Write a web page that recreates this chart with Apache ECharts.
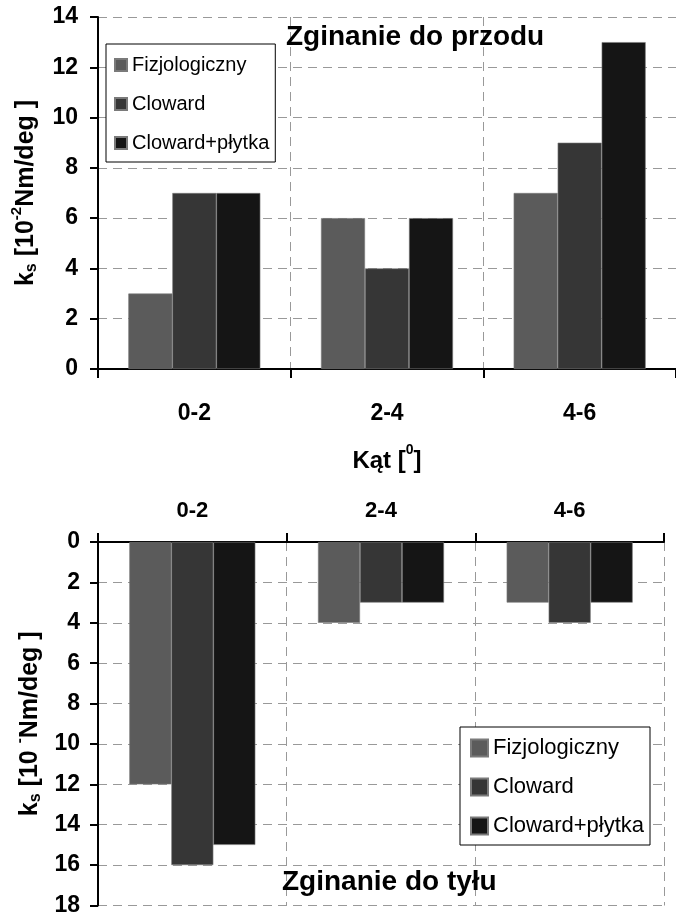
<!DOCTYPE html>
<html>
<head>
<meta charset="utf-8">
<script src="https://cdn.jsdelivr.net/npm/echarts@6/dist/echarts.min.js"></script>
<style>html,body{margin:0;padding:0;background:#fff}#c{width:676px;height:917px}</style>
</head>
<body>
<div id="c"></div>
<script>
var categories = ['0-2', '2-4', '4-6'];
var seriesNames = ['Fizjologiczny', 'Cloward', 'Cloward+płytka'];
var frontFizjologiczny = [3, 6, 7];
var frontCloward = [7, 4, 9];
var frontClowardPlytka = [7, 6, 13];
var backFizjologiczny = [12, 4, 3];
var backCloward = [16, 3, 4];
var backClowardPlytka = [15, 3, 3];
var colors = ['#5b5b5b', '#363636', '#151515'];

var FONT = '"Liberation Sans", Arial, sans-serif';
var dash = { color: '#999', type: [9, 6], width: 1 };

function bar(name, data, idx, color, w) {
  return {
    name: name, type: 'bar', xAxisIndex: idx, yAxisIndex: idx, data: data,
    barWidth: w, barGap: '0%',
    itemStyle: { color: color, borderColor: '#7a7a7a', borderWidth: 0.6 },
    emphasis: { disabled: true }
  };
}

var ynameRich = {
  a: { fontFamily: FONT, fontWeight: 'bold', fontSize: 25, color: '#000', lineHeight: 30, verticalAlign: 'bottom' },
  b: { fontFamily: FONT, fontWeight: 'bold', fontSize: 16, color: '#000', lineHeight: 30, verticalAlign: 'bottom', padding: [0, 0, -1, 0] },
  c: { fontFamily: FONT, fontWeight: 'bold', fontSize: 15, color: '#000', lineHeight: 30, verticalAlign: 'top' }
};

var chart = echarts.init(document.getElementById('c'), null, { renderer: 'canvas' });
chart.setOption({
  animation: false,
  backgroundColor: '#fff',
  textStyle: { fontFamily: FONT },
  title: [
    { text: 'Zginanie do przodu', left: 286, top: 23, padding: 0,
      textStyle: { fontFamily: FONT, fontWeight: 'bold', fontSize: 28, color: '#000' } },
    { text: 'Zginanie do tyłu', left: 282, top: 868, padding: 0,
      textStyle: { fontFamily: FONT, fontWeight: 'bold', fontSize: 28, color: '#000' } }
  ],
  legend: [
    { data: seriesNames, orient: 'vertical', left: 106, top: 44, width: 167,
      itemWidth: 12, itemHeight: 12, itemGap: 19, icon: 'rect',
      padding: [11, 6, 9, 8], borderColor: '#000', borderWidth: 1, backgroundColor: '#fff',
      selectedMode: false,
      textStyle: { fontFamily: FONT, fontSize: 20, color: '#000' } },
    { data: seriesNames, orient: 'vertical', left: 460, top: 727,
      itemWidth: 17, itemHeight: 17, itemGap: 17, icon: 'rect',
      padding: [10, 6, 8, 10], borderColor: '#000', borderWidth: 1, backgroundColor: '#fff',
      selectedMode: false,
      textStyle: { fontFamily: FONT, fontSize: 22, color: '#000' } }
  ],
  grid: [
    { left: 98, top: 17, width: 586, height: 352, containLabel: false },
    { left: 98, top: 542, width: 566, height: 365, containLabel: false }
  ],
  xAxis: [
    { type: 'category', gridIndex: 0, data: categories, position: 'bottom',
      axisLine: { lineStyle: { color: '#000', width: 2 } },
      axisTick: { show: true, length: 9, lineStyle: { color: '#000', width: 2 } },
      axisLabel: { margin: 33, fontFamily: FONT, fontWeight: 'bold', fontSize: 23, color: '#000' },
      splitLine: { show: true, lineStyle: dash },
      name: '{a|Kąt [}{c|0}{a|]}', nameLocation: 'middle', nameGap: 74,
      nameTextStyle: { rich: {
        a: { fontFamily: FONT, fontWeight: 'bold', fontSize: 24, color: '#000', lineHeight: 30, verticalAlign: 'bottom' },
        c: { fontFamily: FONT, fontWeight: 'bold', fontSize: 14, color: '#000', lineHeight: 30, verticalAlign: 'top' }
      } } },
    { type: 'category', gridIndex: 1, data: categories, position: 'top',
      axisLine: { lineStyle: { color: '#000', width: 2 } },
      axisTick: { show: true, length: 9, lineStyle: { color: '#000', width: 2 } },
      axisLabel: { margin: 20, fontFamily: FONT, fontWeight: 'bold', fontSize: 22, color: '#000' },
      splitLine: { show: true, lineStyle: dash } }
  ],
  yAxis: [
    { type: 'value', gridIndex: 0, min: 0, max: 14, interval: 2,
      axisLine: { show: true, lineStyle: { color: '#000', width: 2 } },
      axisTick: { show: true, length: 8, lineStyle: { color: '#000', width: 2 } },
      axisLabel: { margin: 20, fontFamily: FONT, fontWeight: 'bold', fontSize: 23, color: '#000' },
      splitLine: { show: true, lineStyle: dash },
      name: '{a|k}{b|s}{a| [10}{c|-2}{a|Nm/deg ]}', nameLocation: 'middle', nameGap: 59, nameRotate: 90,
      nameTextStyle: { rich: ynameRich } },
    { type: 'value', gridIndex: 1, min: 0, max: 18, interval: 2, inverse: true,
      axisLine: { show: true, lineStyle: { color: '#000', width: 2 } },
      axisTick: { show: true, length: 8, lineStyle: { color: '#000', width: 2 } },
      axisLabel: { margin: 18, fontFamily: FONT, fontWeight: 'bold', fontSize: 23, color: '#000' },
      splitLine: { show: true, lineStyle: dash },
      name: '{a|k}{b|s}{a| [10 }{c|-}{a|Nm/deg ]}', nameLocation: 'middle', nameGap: 54, nameRotate: 90,
      nameTextStyle: { rich: ynameRich } }
  ],
  series: [
    bar(seriesNames[0], frontFizjologiczny, 0, colors[0], 44),
    bar(seriesNames[1], frontCloward, 0, colors[1], 44),
    bar(seriesNames[2], frontClowardPlytka, 0, colors[2], 44),
    bar(seriesNames[0], backFizjologiczny, 1, colors[0], 42),
    bar(seriesNames[1], backCloward, 1, colors[1], 42),
    bar(seriesNames[2], backClowardPlytka, 1, colors[2], 42)
  ]
});
</script>
</body>
</html>
